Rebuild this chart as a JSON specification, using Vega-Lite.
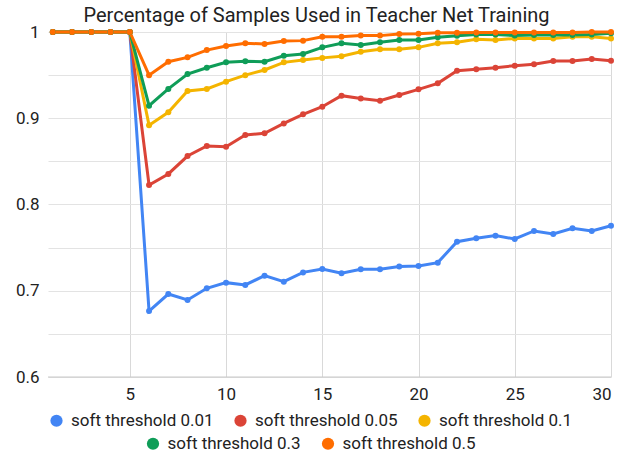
{
  "$schema": "https://vega.github.io/schema/vega-lite/v6.json",
  "width": 563,
  "height": 345,
  "autosize": {"type": "none"},
  "padding": {"left": 48, "top": 32, "right": 21, "bottom": 81},
  "background": "white",
  "title": {
    "text": "Percentage of Samples Used in Teacher Net Training",
    "font": "Roboto",
    "fontSize": 20,
    "fontWeight": "normal",
    "color": "#222222",
    "anchor": "middle",
    "offset": -3,
    "dx": -13
  },
  "datasets": {
    "rows": [
      {"x": 1, "v": 1, "s": "soft threshold 0.01"}, {"x": 2, "v": 1, "s": "soft threshold 0.01"}, {"x": 3, "v": 1, "s": "soft threshold 0.01"}, {"x": 4, "v": 1, "s": "soft threshold 0.01"}, {"x": 5, "v": 1, "s": "soft threshold 0.01"},
      {"x": 6, "v": 0.6765, "s": "soft threshold 0.01"}, {"x": 7, "v": 0.6962, "s": "soft threshold 0.01"}, {"x": 8, "v": 0.6893, "s": "soft threshold 0.01"}, {"x": 9, "v": 0.7028, "s": "soft threshold 0.01"}, {"x": 10, "v": 0.7094, "s": "soft threshold 0.01"},
      {"x": 11, "v": 0.7067, "s": "soft threshold 0.01"}, {"x": 12, "v": 0.7175, "s": "soft threshold 0.01"}, {"x": 13, "v": 0.7105, "s": "soft threshold 0.01"}, {"x": 14, "v": 0.7213, "s": "soft threshold 0.01"}, {"x": 15, "v": 0.7252, "s": "soft threshold 0.01"},
      {"x": 16, "v": 0.7202, "s": "soft threshold 0.01"}, {"x": 17, "v": 0.7249, "s": "soft threshold 0.01"}, {"x": 18, "v": 0.7249, "s": "soft threshold 0.01"}, {"x": 19, "v": 0.728, "s": "soft threshold 0.01"}, {"x": 20, "v": 0.7287, "s": "soft threshold 0.01"},
      {"x": 21, "v": 0.7326, "s": "soft threshold 0.01"}, {"x": 22, "v": 0.7569, "s": "soft threshold 0.01"}, {"x": 23, "v": 0.7608, "s": "soft threshold 0.01"}, {"x": 24, "v": 0.7639, "s": "soft threshold 0.01"}, {"x": 25, "v": 0.76, "s": "soft threshold 0.01"},
      {"x": 26, "v": 0.7693, "s": "soft threshold 0.01"}, {"x": 27, "v": 0.7658, "s": "soft threshold 0.01"}, {"x": 28, "v": 0.7724, "s": "soft threshold 0.01"}, {"x": 29, "v": 0.7693, "s": "soft threshold 0.01"}, {"x": 30, "v": 0.7754, "s": "soft threshold 0.01"},

      {"x": 1, "v": 1, "s": "soft threshold 0.05"}, {"x": 2, "v": 1, "s": "soft threshold 0.05"}, {"x": 3, "v": 1, "s": "soft threshold 0.05"}, {"x": 4, "v": 1, "s": "soft threshold 0.05"}, {"x": 5, "v": 1, "s": "soft threshold 0.05"},
      {"x": 6, "v": 0.8226, "s": "soft threshold 0.05"}, {"x": 7, "v": 0.8354, "s": "soft threshold 0.05"}, {"x": 8, "v": 0.8562, "s": "soft threshold 0.05"}, {"x": 9, "v": 0.8678, "s": "soft threshold 0.05"}, {"x": 10, "v": 0.867, "s": "soft threshold 0.05"},
      {"x": 11, "v": 0.8806, "s": "soft threshold 0.05"}, {"x": 12, "v": 0.8825, "s": "soft threshold 0.05"}, {"x": 13, "v": 0.894, "s": "soft threshold 0.05"}, {"x": 14, "v": 0.9046, "s": "soft threshold 0.05"}, {"x": 15, "v": 0.9134, "s": "soft threshold 0.05"},
      {"x": 16, "v": 0.9262, "s": "soft threshold 0.05"}, {"x": 17, "v": 0.923, "s": "soft threshold 0.05"}, {"x": 18, "v": 0.9204, "s": "soft threshold 0.05"}, {"x": 19, "v": 0.927, "s": "soft threshold 0.05"}, {"x": 20, "v": 0.9335, "s": "soft threshold 0.05"},
      {"x": 21, "v": 0.9405, "s": "soft threshold 0.05"}, {"x": 22, "v": 0.9552, "s": "soft threshold 0.05"}, {"x": 23, "v": 0.9567, "s": "soft threshold 0.05"}, {"x": 24, "v": 0.9586, "s": "soft threshold 0.05"}, {"x": 25, "v": 0.961, "s": "soft threshold 0.05"},
      {"x": 26, "v": 0.9625, "s": "soft threshold 0.05"}, {"x": 27, "v": 0.9664, "s": "soft threshold 0.05"}, {"x": 28, "v": 0.9664, "s": "soft threshold 0.05"}, {"x": 29, "v": 0.9687, "s": "soft threshold 0.05"}, {"x": 30, "v": 0.9667, "s": "soft threshold 0.05"},

      {"x": 1, "v": 1, "s": "soft threshold 0.1"}, {"x": 2, "v": 1, "s": "soft threshold 0.1"}, {"x": 3, "v": 1, "s": "soft threshold 0.1"}, {"x": 4, "v": 1, "s": "soft threshold 0.1"}, {"x": 5, "v": 1, "s": "soft threshold 0.1"},
      {"x": 6, "v": 0.892, "s": "soft threshold 0.1"}, {"x": 7, "v": 0.9069, "s": "soft threshold 0.1"}, {"x": 8, "v": 0.9316, "s": "soft threshold 0.1"}, {"x": 9, "v": 0.934, "s": "soft threshold 0.1"}, {"x": 10, "v": 0.9424, "s": "soft threshold 0.1"},
      {"x": 11, "v": 0.95, "s": "soft threshold 0.1"}, {"x": 12, "v": 0.956, "s": "soft threshold 0.1"}, {"x": 13, "v": 0.9648, "s": "soft threshold 0.1"}, {"x": 14, "v": 0.9675, "s": "soft threshold 0.1"}, {"x": 15, "v": 0.97, "s": "soft threshold 0.1"},
      {"x": 16, "v": 0.972, "s": "soft threshold 0.1"}, {"x": 17, "v": 0.9772, "s": "soft threshold 0.1"}, {"x": 18, "v": 0.98, "s": "soft threshold 0.1"}, {"x": 19, "v": 0.98, "s": "soft threshold 0.1"}, {"x": 20, "v": 0.9822, "s": "soft threshold 0.1"},
      {"x": 21, "v": 0.9869, "s": "soft threshold 0.1"}, {"x": 22, "v": 0.988, "s": "soft threshold 0.1"}, {"x": 23, "v": 0.9915, "s": "soft threshold 0.1"}, {"x": 24, "v": 0.9907, "s": "soft threshold 0.1"}, {"x": 25, "v": 0.9926, "s": "soft threshold 0.1"},
      {"x": 26, "v": 0.9926, "s": "soft threshold 0.1"}, {"x": 27, "v": 0.9926, "s": "soft threshold 0.1"}, {"x": 28, "v": 0.9946, "s": "soft threshold 0.1"}, {"x": 29, "v": 0.9946, "s": "soft threshold 0.1"}, {"x": 30, "v": 0.9926, "s": "soft threshold 0.1"},

      {"x": 1, "v": 1, "s": "soft threshold 0.3"}, {"x": 2, "v": 1, "s": "soft threshold 0.3"}, {"x": 3, "v": 1, "s": "soft threshold 0.3"}, {"x": 4, "v": 1, "s": "soft threshold 0.3"}, {"x": 5, "v": 1, "s": "soft threshold 0.3"},
      {"x": 6, "v": 0.9146, "s": "soft threshold 0.3"}, {"x": 7, "v": 0.934, "s": "soft threshold 0.3"}, {"x": 8, "v": 0.9513, "s": "soft threshold 0.3"}, {"x": 9, "v": 0.9586, "s": "soft threshold 0.3"}, {"x": 10, "v": 0.9648, "s": "soft threshold 0.3"},
      {"x": 11, "v": 0.966, "s": "soft threshold 0.3"}, {"x": 12, "v": 0.9656, "s": "soft threshold 0.3"}, {"x": 13, "v": 0.9725, "s": "soft threshold 0.3"}, {"x": 14, "v": 0.9745, "s": "soft threshold 0.3"}, {"x": 15, "v": 0.9822, "s": "soft threshold 0.3"},
      {"x": 16, "v": 0.9869, "s": "soft threshold 0.3"}, {"x": 17, "v": 0.985, "s": "soft threshold 0.3"}, {"x": 18, "v": 0.988, "s": "soft threshold 0.3"}, {"x": 19, "v": 0.9907, "s": "soft threshold 0.3"}, {"x": 20, "v": 0.9907, "s": "soft threshold 0.3"},
      {"x": 21, "v": 0.9938, "s": "soft threshold 0.3"}, {"x": 22, "v": 0.9957, "s": "soft threshold 0.3"}, {"x": 23, "v": 0.997, "s": "soft threshold 0.3"}, {"x": 24, "v": 0.997, "s": "soft threshold 0.3"}, {"x": 25, "v": 0.996, "s": "soft threshold 0.3"},
      {"x": 26, "v": 0.9965, "s": "soft threshold 0.3"}, {"x": 27, "v": 0.9965, "s": "soft threshold 0.3"}, {"x": 28, "v": 0.9965, "s": "soft threshold 0.3"}, {"x": 29, "v": 0.997, "s": "soft threshold 0.3"}, {"x": 30, "v": 0.9985, "s": "soft threshold 0.3"},

      {"x": 1, "v": 1, "s": "soft threshold 0.5"}, {"x": 2, "v": 1, "s": "soft threshold 0.5"}, {"x": 3, "v": 1, "s": "soft threshold 0.5"}, {"x": 4, "v": 1, "s": "soft threshold 0.5"}, {"x": 5, "v": 1, "s": "soft threshold 0.5"},
      {"x": 6, "v": 0.95, "s": "soft threshold 0.5"}, {"x": 7, "v": 0.9656, "s": "soft threshold 0.5"}, {"x": 8, "v": 0.9706, "s": "soft threshold 0.5"}, {"x": 9, "v": 0.979, "s": "soft threshold 0.5"}, {"x": 10, "v": 0.9838, "s": "soft threshold 0.5"},
      {"x": 11, "v": 0.987, "s": "soft threshold 0.5"}, {"x": 12, "v": 0.986, "s": "soft threshold 0.5"}, {"x": 13, "v": 0.9896, "s": "soft threshold 0.5"}, {"x": 14, "v": 0.99, "s": "soft threshold 0.5"}, {"x": 15, "v": 0.9946, "s": "soft threshold 0.5"},
      {"x": 16, "v": 0.9946, "s": "soft threshold 0.5"}, {"x": 17, "v": 0.9958, "s": "soft threshold 0.5"}, {"x": 18, "v": 0.9958, "s": "soft threshold 0.5"}, {"x": 19, "v": 0.9977, "s": "soft threshold 0.5"}, {"x": 20, "v": 0.998, "s": "soft threshold 0.5"},
      {"x": 21, "v": 0.999, "s": "soft threshold 0.5"}, {"x": 22, "v": 0.999, "s": "soft threshold 0.5"}, {"x": 23, "v": 0.9995, "s": "soft threshold 0.5"}, {"x": 24, "v": 0.9995, "s": "soft threshold 0.5"}, {"x": 25, "v": 0.9995, "s": "soft threshold 0.5"},
      {"x": 26, "v": 0.9995, "s": "soft threshold 0.5"}, {"x": 27, "v": 0.9995, "s": "soft threshold 0.5"}, {"x": 28, "v": 0.9995, "s": "soft threshold 0.5"}, {"x": 29, "v": 1, "s": "soft threshold 0.5"}, {"x": 30, "v": 1, "s": "soft threshold 0.5"}
    ]
  },
  "data": {"name": "rows"},
  "encoding": {
    "x": {
      "field": "x",
      "type": "quantitative",
      "scale": {"domain": [0.75, 30], "nice": false, "zero": false},
      "axis": {
        "title": null,
        "values": [5, 10, 15, 20, 25, 30],
        "grid": true,
        "gridColor": "#d9d9d9",
        "ticks": false,
        "domain": false,
        "labelPadding": 9,
        "labelFont": "Roboto",
        "labelFontSize": 17,
        "labelColor": "#222222"
      }
    },
    "y": {
      "field": "v",
      "type": "quantitative",
      "scale": {"domain": [0.6, 1], "nice": false, "zero": false},
      "axis": {
        "title": null,
        "values": [0.6, 0.65, 0.7, 0.75, 0.8, 0.85, 0.9, 0.95, 1],
        "labelExpr": "abs(round(datum.value * 10) - datum.value * 10) < 0.01 ? format(datum.value, '~g') : ''",
        "grid": true,
        "gridColor": "#e3e3e3",
        "ticks": false,
        "domain": false,
        "labelPadding": 9,
        "labelFont": "Roboto",
        "labelFontSize": 17,
        "labelColor": "#222222"
      }
    }
  },
  "layer": [
    {
      "mark": {"type": "rule", "color": "#c8c8c8", "strokeWidth": 1},
      "data": {"values": [{"v": 0.6}]},
      "encoding": {"x": null, "y": {"field": "v", "type": "quantitative"}}
    },
    {
      "mark": {"type": "line", "strokeWidth": 3, "clip": false},
      "encoding": {
        "stroke": {
          "field": "s",
          "type": "nominal",
          "scale": {
            "domain": ["soft threshold 0.01", "soft threshold 0.05", "soft threshold 0.1", "soft threshold 0.3", "soft threshold 0.5"],
            "range": ["#4285F4", "#DB4437", "#F4B400", "#0F9D58", "#FF6D00"]
          },
          "legend": null
        }
      }
    },
    {
      "transform": [{"filter": {"field": "s", "oneOf": ["soft threshold 0.01", "soft threshold 0.05", "soft threshold 0.1"]}}],
      "mark": {"type": "point", "filled": true, "size": 36, "opacity": 1, "shape": "circle"},
      "encoding": {
        "fill": {
          "field": "s",
          "type": "nominal",
          "scale": {
            "domain": ["soft threshold 0.01", "soft threshold 0.05", "soft threshold 0.1"],
            "range": ["#4285F4", "#DB4437", "#F4B400"]
          },
          "legend": {"title": null, "orient": "bottom", "direction": "horizontal"}
        }
      }
    },
    {
      "transform": [{"filter": {"field": "s", "oneOf": ["soft threshold 0.3", "soft threshold 0.5"]}}],
      "mark": {"type": "point", "filled": true, "size": 36, "opacity": 1, "shape": "circle"},
      "encoding": {
        "color": {
          "field": "s",
          "type": "nominal",
          "scale": {
            "domain": ["soft threshold 0.3", "soft threshold 0.5"],
            "range": ["#0F9D58", "#FF6D00"]
          },
          "legend": {"title": null, "orient": "bottom", "direction": "horizontal"}
        }
      }
    }
  ],
  "config": {
    "view": {"stroke": null},
    "legend": {
      "symbolType": "circle",
      "symbolSize": 150,
      "symbolStrokeWidth": 0,
      "symbolOpacity": 1,
      "labelFont": "Roboto",
      "labelFontSize": 17,
      "labelColor": "#222222",
      "labelOffset": 6,
      "columnPadding": 18,
      "padding": 0,
      "offset": 10,
      "layout": {"bottom": {"anchor": "start", "bounds": "flush", "direction": "vertical", "center": true, "margin": 6}}
    }
  }
}
